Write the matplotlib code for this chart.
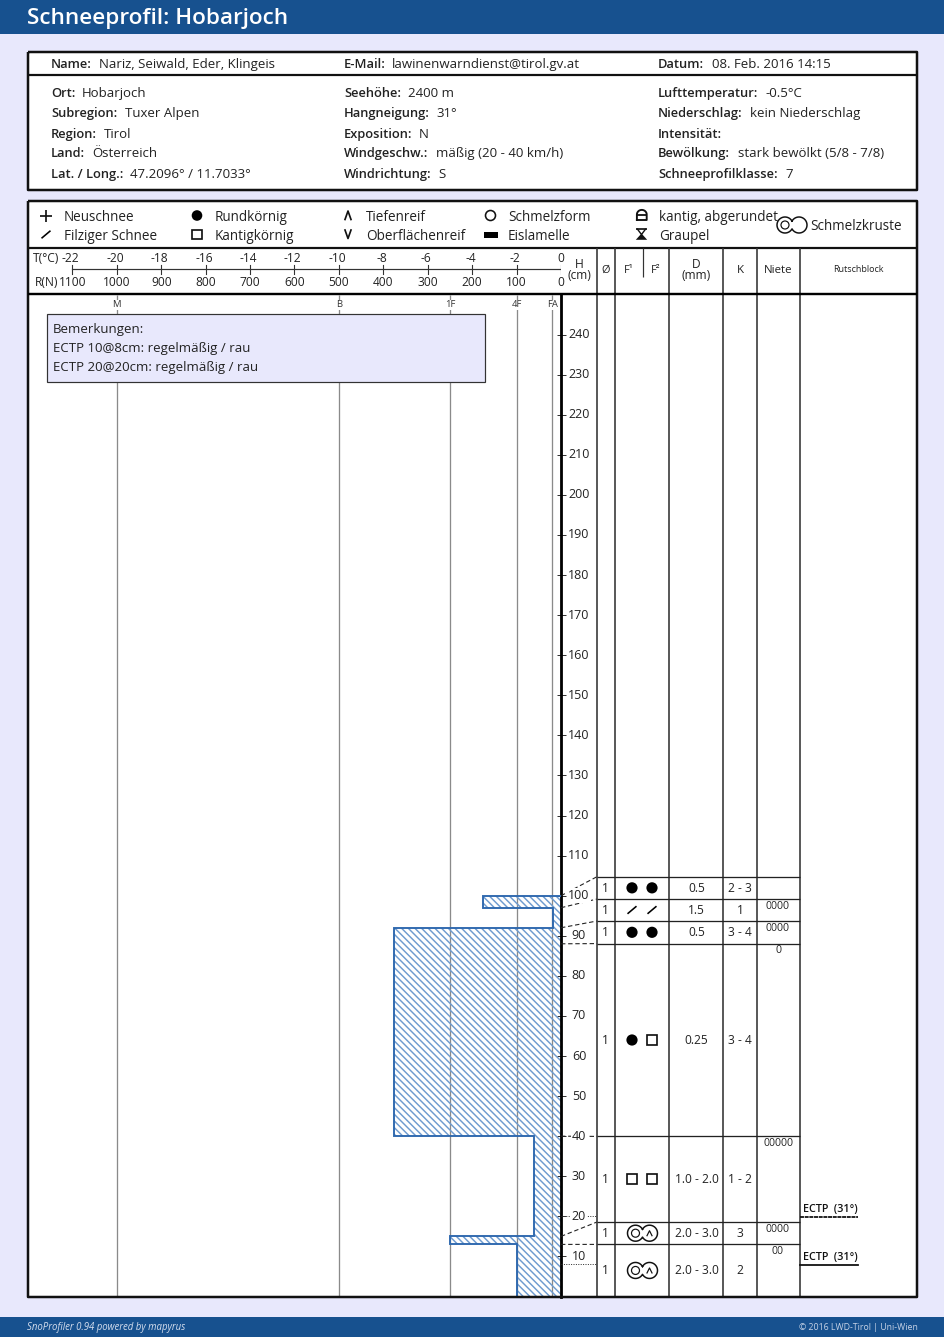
import numpy as np
import matplotlib
matplotlib.use("Agg")
import matplotlib.pyplot as plt
from matplotlib.patches import Polygon, Rectangle, Circle

# ---------- data ----------
LAYER_TOPS = [100, 97, 92, 88, 40, 15, 13]
LAYER_BOTTOMS = [97, 92, 88, 40, 15, 13, 0]
LAYER_R = [175, 18, 375, 375, 60, 250, 100]
LAYER_THETA = ["1", "1", "1", "1", "1", "1", "1"]
F1 = ["round", "felt", "round", "round", "facet", "crust", "crust"]
F2 = ["round", "felt", "round", "facet", "facet", "crust", "crust"]
SIZE_D = ["0.5", "1.5", "0.5", "0.25", "1.0 - 2.0", "2.0 - 3.0", "2.0 - 3.0"]
HARD_K = ["2 - 3", "1", "3 - 4", "3 - 4", "1 - 2", "3", "2"]
NIETE = [0, 4, 4, 1, 5, 4, 2]
ECTP_H = [20, 8]
ECTP_LABELS = ["ECTP  (31°)", "ECTP  (31°)"]
HEIGHT_TICKS = list(range(10, 250, 10))
T_TICKS = [-22, -20, -18, -16, -14, -12, -10, -8, -6, -4, -2, 0]
R_TICKS = [1100, 1000, 900, 800, 700, 600, 500, 400, 300, 200, 100, 0]
HAND_R = [1000, 500, 250, 100, 20]
HAND_LABELS = ["M", "B", "1F", "4F", "FA"]
INFO_TOP = [("Name:", "Nariz, Seiwald, Eder, Klingeis", 51, 99),
            ("E-Mail:", "lawinenwarndienst@tirol.gv.at", 344, 392),
            ("Datum:", "08. Feb. 2016 14:15", 658, 712)]
INFO_ROWS = [
    [("Ort:", "Hobarjoch", 82), ("Seehöhe:", "2400 m", 408), ("Lufttemperatur:", "-0.5°C", 765)],
    [("Subregion:", "Tuxer Alpen", 125), ("Hangneigung:", "31°", 436), ("Niederschlag:", "kein Niederschlag", 750)],
    [("Region:", "Tirol", 104), ("Exposition:", "N", 419), ("Intensität:", "", 730)],
    [("Land:", "Österreich", 92), ("Windgeschw.:", "mäßig (20 - 40 km/h)", 436), ("Bewölkung:", "stark bewölkt (5/8 - 7/8)", 738)],
    [("Lat. / Long.:", "47.2096° / 11.7033°", 130), ("Windrichtung:", "S", 438), ("Schneeprofilklasse:", "7", 785)],
]
REMARKS = ["Bemerkungen:", "ECTP 10@8cm: regelmäßig / rau", "ECTP 20@20cm: regelmäßig / rau"]

# ---------- layout ----------
W, H = 945, 1337
BG = "#E8E8FC"
BLUE = "#17518F"
HATCH = "#6E9BCF"
FONT = "Open Sans"
plt.rcParams["font.family"] = [FONT, "DejaVu Sans"]
plt.rcParams["hatch.linewidth"] = 1.05
plt.rcParams["hatch.color"] = HATCH

fig = plt.figure(figsize=(W / 100, H / 100), dpi=100, facecolor=BG)


def px_axes(z):
    a = fig.add_axes([0, 0, 1, 1], zorder=z)
    a.set_xlim(0, W)
    a.set_ylim(H, 0)
    a.axis("off")
    return a


bg = px_axes(0)
fg = px_axes(3)
PT = 0.72  # px -> pt


def T(a, x, y, s, px=13.3, ha="left", color="#222222", **kw):
    # y is the middle of the digit height; the text sits on its baseline
    return a.text(x, y + 0.36 * px, s, fontsize=px * PT, ha=ha, va="baseline", color=color, **kw)


def L(a, xs, ys, lw=1.0, color="black", **kw):
    a.plot(xs, ys, lw=lw * PT, color=color, solid_capstyle="butt", dash_capstyle="butt", **kw)


# bands
bg.add_patch(Rectangle((0, 0), W, 33.5, fc=BLUE, ec="none"))
bg.add_patch(Rectangle((0, 1316.5), W, 21, fc=BLUE, ec="none"))
T(bg, 27, 16, "Schneeprofil: Hobarjoch", px=22.5, color="white", weight="semibold")
T(bg, 27, 1327, "SnoProfiler 0.94 powered by mapyrus", px=9.6, color="#D5DEEE", style="italic")
T(bg, 918, 1327, "© 2016 LWD-Tirol | Uni-Wien", px=8.8, ha="right", color="#C5D2E6")

# panels
bg.add_patch(Rectangle((28, 52), 889, 138, fc="white", ec="none"))
bg.add_patch(Rectangle((28, 200.5), 889, 1096.5, fc="white", ec="none"))
for (x0, y0, x1, y1) in [(28, 52, 917, 190), (28, 200.5, 917, 1297)]:
    L(fg, [x0, x1, x1, x0, x0], [y0, y0, y1, y1, y0], lw=2.5, color="#111111", zorder=8)
L(fg, [28, 917], [75, 75], lw=2.2, color="#111111")
L(fg, [28, 917], [248, 248], lw=2.2, color="#111111")
L(fg, [28, 917], [293.5, 293.5], lw=2.4, color="black", zorder=8)

# info text
LABEL_PX = 12.9
for lab, val, x0, x1 in INFO_TOP:
    T(fg, x0, 63.7, lab, px=LABEL_PX, weight="semibold")
    T(fg, x1, 63.7, val)
for rowy, row in zip([92.5, 112.5, 132.9, 152.7, 173.2], INFO_ROWS):
    for colx, (lab, val, xv) in zip([51, 344, 658], row):
        T(fg, colx, rowy, lab, px=LABEL_PX, weight="semibold")
        if val:
            T(fg, xv, rowy, val)

# profile axes
X0, X1 = 28, 561
Y_TOP, Y_BOT = 294.5, 1296.5
ax = fig.add_axes([X0 / W, 1 - Y_BOT / H, (X1 - X0) / W, (Y_BOT - Y_TOP) / H], zorder=1, facecolor="white")
ax.set_xlim(1200, 0)
ax.set_ylim(0, 250)
for s in ["left", "top", "bottom"]:
    ax.spines[s].set_visible(False)
ax.spines["right"].set_linewidth(2.8 * PT)
ax.xaxis.set_visible(False)
ax.yaxis.tick_right()
ax.set_yticks(HEIGHT_TICKS)
ax.tick_params(axis="y", direction="inout", length=9 * PT, width=1.0 * PT, labelright=False, color="#333333")

ax.vlines(HAND_R, 0, 250, color="#8A8A8A", lw=1.3 * PT, zorder=1)
for r, lab in zip(HAND_R, HAND_LABELS):
    ax.text(r, 247.4, lab, fontsize=9.5 * PT, ha="center", va="center", color="#333333", zorder=5,
            bbox=dict(fc="white", ec="none", pad=0.6))

# hardness profile (step outline from the layer arrays)
xs, ys = [0], [LAYER_TOPS[0]]
for top, bot, r in zip(LAYER_TOPS, LAYER_BOTTOMS, LAYER_R):
    xs += [r, r]
    ys += [top, bot]
xs.append(0)
ys.append(0)
ax.add_patch(Polygon(np.column_stack([xs, ys]), closed=True, fc="none", ec=HATCH, lw=0, hatch="\\" * 5, zorder=2))
ax.plot(xs, ys, color="#2E68AE", lw=1.9 * PT, zorder=3, solid_joinstyle="miter")

# T / R scale header
ax_s = fig.add_axes([X0 / W, 1 - 293 / H, (X1 - X0) / W, (293 - 249) / H], zorder=2)
ax_s.set_xlim(1200, 0)
ax_s.set_ylim(293, 249)
ax_s.axis("off")
ax_s.plot([1100, 0], [269, 269], color="#333333", lw=1.2 * PT)
for tv, rv in zip(T_TICKS, R_TICKS):
    ax_s.plot([rv, rv], [265, 274], color="#333333", lw=1.1 * PT)
    off = 4 if tv < 0 else 0
    ax_s.text(-tv * 50 + off, 262, str(tv), fontsize=12 * PT, ha="center", va="baseline", color="#222222")
    ax_s.text(rv, 286, str(rv), fontsize=12 * PT, ha="center", va="baseline", color="#222222")
T(fg, 33, 257.7, "T(°C)", px=12)
T(fg, 35, 281.7, "R(N)", px=12)

# table
COLS = [597, 615, 669, 723, 757, 800]
ROW_PX = [876.7, 899, 921, 943.6, 1136.4, 1222, 1244.4, 1296.5]
F1X, F2X, CX, DX, KX, NX, THX = 632, 652, 642.5, 696.5, 740, 778, 605.5
for x in COLS:
    L(fg, [x, x], [248, 1297], lw=1.6, color="#333333")
L(fg, [643, 643], [248, 277], lw=1.2, color="#333333")
for y in ROW_PX[:-1]:
    L(fg, [597, 800], [y, y], lw=1.3, color="#222222")


def h2px(h):
    return Y_BOT - h / 250 * (Y_BOT - Y_TOP)


for top, yr in zip(LAYER_TOPS, ROW_PX):
    fg.plot([561, 597], [h2px(top), yr], color="#222222", lw=1.1 * PT, ls=(0, (4, 2.5)), zorder=1)
for h in ECTP_H:
    fg.plot([561, 597], [h2px(h), h2px(h)], color="#333333", lw=1.0 * PT, ls=(0, (1, 1.4)), zorder=1)

# height labels drawn above the connectors
for v in HEIGHT_TICKS:
    T(fg, 579, h2px(v) - 1.0, str(v), px=12.5, ha="center", zorder=4, bbox=dict(fc="white", ec="none", pad=0.6))

# grain symbols


def sym_round(a, x, y, r=5.6):
    a.add_patch(Circle((x, y), r, fc="black", ec="none"))


def sym_open(a, x, y, r=5):
    a.add_patch(Circle((x, y), r, fc="none", ec="#111111", lw=1.6 * PT))


def sym_facet(a, x, y, s=4.8):
    a.add_patch(Rectangle((x - s, y - s), 2 * s, 2 * s, fc="none", ec="#111111", lw=1.7 * PT))


def sym_felt(a, x, y):
    a.plot([x - 4.5, x + 4.5], [y + 3.8, y - 3.8], color="black", lw=1.6 * PT, solid_capstyle="butt")


def sym_crust(a, x, y, inner=True):
    r, d = 8, 7
    th0 = np.arccos(d / r)
    th = np.linspace(th0, 2 * np.pi - th0, 60)
    lx = x - d + r * np.cos(th)
    ly = y - r * np.sin(th)
    rx = x + d - r * np.cos(th)
    ry = y + r * np.sin(th)
    a.plot(np.r_[lx, rx, lx[0]], np.r_[ly, ry, ly[0]], color="#111111", lw=1.5 * PT)
    a.add_patch(Circle((x - d, y), 4.0, fc="none", ec="#111111", lw=1.2 * PT))
    if inner:
        a.plot([x + d - 2.5, x + d, x + d + 2.5], [y + 2.5, y - 2.5, y + 2.5], color="#111111", lw=1.2 * PT)


DRAW = {"round": sym_round, "facet": sym_facet, "felt": sym_felt}
for i in range(7):
    ym = (ROW_PX[i] + ROW_PX[i + 1]) / 2
    T(fg, THX, ym - 0.5, LAYER_THETA[i], px=12, ha="center")
    T(fg, DX, ym - 0.5, SIZE_D[i], px=12, ha="center")
    T(fg, KX, ym - 0.5, HARD_K[i], px=12, ha="center")
    if F1[i] == "crust":
        sym_crust(fg, CX, ym)
    else:
        DRAW[F1[i]](fg, F1X, ym)
        DRAW[F2[i]](fg, F2X, ym)
    if NIETE[i]:
        T(fg, NX, ROW_PX[i] + 5.8, "0" * NIETE[i], px=10.5, ha="center")

# Rutschblock results
for h, lab, ls in zip(ECTP_H, ECTP_LABELS, [(0, (2.2, 0.4)), "-"]):
    yy = h2px(h)
    T(fg, 803, yy - 8, lab, px=10.7, weight="semibold", color="#111111")
    fg.plot([800, 858], [yy + 0.5, yy + 0.5], color="#111111", lw=1.8 * PT, ls=ls)

# header labels
T(fg, 579, 263.5, "H", px=12, ha="center")
T(fg, 579, 274.5, "(cm)", px=12, ha="center")
T(fg, 605.5, 269, "Ø", px=11, ha="center")
T(fg, 629, 269, "F¹", px=11, ha="center")
T(fg, 656, 269, "F²", px=11, ha="center")
T(fg, 696.5, 263.5, "D", px=12, ha="center")
T(fg, 696.5, 274.5, "(mm)", px=12, ha="center")
T(fg, 740, 269, "K", px=11.5, ha="center")
T(fg, 778, 269, "Niete", px=11.5, ha="center")
T(fg, 858, 269, "Rutschblock", px=9, ha="center")

# legend
LEG = [(64, 216.1, "Neuschnee"), (64, 235.1, "Filziger Schnee"), (215, 216.1, "Rundkörnig"), (215, 235.1, "Kantigkörnig"),
       (366, 216.1, "Tiefenreif"), (366, 235.1, "Oberflächenreif"), (508, 216.1, "Schmelzform"), (508, 235.1, "Eislamelle"),
       (659, 216.1, "kantig, abgerundet"), (659, 235.1, "Graupel"), (810, 224.8, "Schmelzkruste")]
for x, y, s in LEG:
    T(fg, x, y, s, px=13.5)
fg.plot([40, 52], [215.7, 215.7], color="#111111", lw=1.7 * PT, solid_capstyle="butt")
fg.plot([46, 46], [210, 221.5], color="#111111", lw=1.7 * PT, solid_capstyle="butt")
sym_felt(fg, 46, 234.5)
sym_round(fg, 197, 215.5, 5.3)
sym_facet(fg, 197, 234.5, 4.8)
fg.plot([345, 348, 351], [219.5, 211, 219.5], color="#111111", lw=1.7 * PT)
fg.plot([345, 348, 351], [230, 238.5, 230], color="#111111", lw=1.7 * PT)
sym_open(fg, 490.5, 215.5, 5)
fg.add_patch(Rectangle((483.5, 231.5), 14, 6, fc="black", ec="none"))
sym_crust(fg, 792, 225, inner=False)
# kantig, abgerundet: block with a rounded top and a cross bar
arc = np.linspace(np.pi, 0, 24)
lock_x = np.r_[636.9, 641.8 + 4.9 * np.cos(arc), 646.7, 636.9]
lock_y = np.r_[220, 214.5 - 4.6 * np.sin(arc), 220, 220]
fg.plot(lock_x, lock_y, color="#111111", lw=1.9 * PT)
fg.plot([637, 646.5], [214.5, 214.5], color="#111111", lw=1.8 * PT, solid_capstyle="butt")
# Graupel: bar over an hourglass with a filled foot
fg.plot([636, 647], [229.2, 229.2], color="#111111", lw=1.7 * PT, solid_capstyle="butt")
fg.plot([637.5, 641.5, 645.5], [229.2, 234.5, 229.2], color="#111111", lw=1.4 * PT)
fg.add_patch(Polygon([[635.8, 239.8], [647.2, 239.8], [641.5, 233.5]], closed=True, fc="#111111", ec="none"))

# remarks box
fg.add_patch(Rectangle((47, 314), 438, 67.5, fc=BG, ec="#333333", lw=1.2 * PT, zorder=5))
for y, s in zip([328.7, 347.2, 366.2], REMARKS):
    T(fg, 53, y, s, px=13.3, zorder=6)

fig.savefig("out.png", dpi=100, facecolor=BG)
